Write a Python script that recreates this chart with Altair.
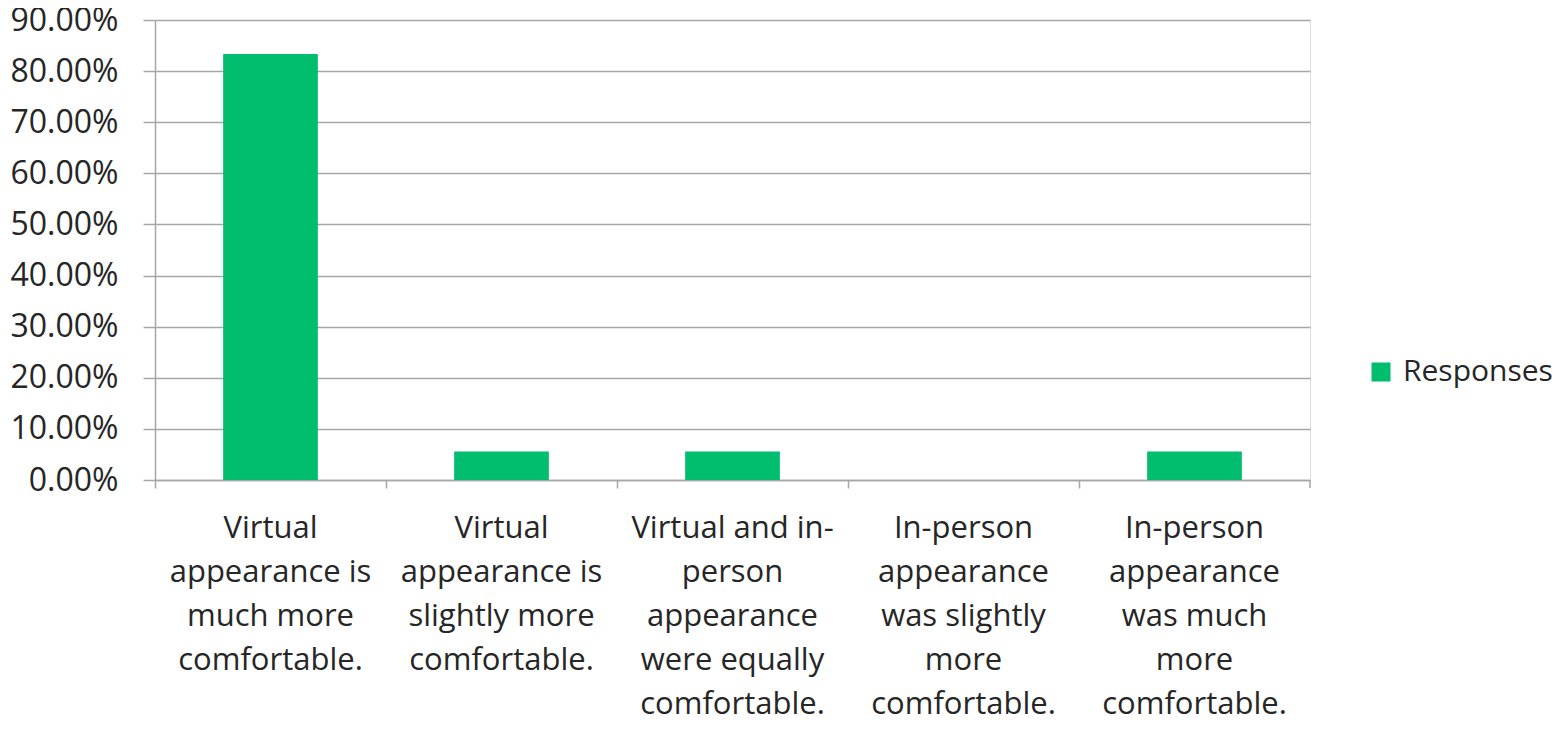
import altair as alt
import pandas as pd

categories = [
    "Virtual|appearance is|much more|comfortable.",
    "Virtual|appearance is|slightly more|comfortable.",
    "Virtual and in-|person|appearance|were equally|comfortable.",
    "In-person|appearance|was slightly|more|comfortable.",
    "In-person|appearance|was much|more|comfortable.",
]
values = [0.8333, 0.0556, 0.0556, 0.0, 0.0556]
series = ["Responses"] * 5

df = pd.DataFrame({"category": categories, "value": values, "series": series})

W, H = 1155, 460
GRAY = "#A6A6A6"
TXT = "#262626"
FONT = "Open Sans"

bars = alt.Chart(df).mark_bar(width=alt.RelativeBandSize(0.41)).encode(
    x=alt.X(
        "category:N",
        sort=categories,
        scale=alt.Scale(paddingInner=0, paddingOuter=0),
        axis=alt.Axis(
            title=None,
            labelAngle=0,
            labelExpr="split(datum.label, '|')",
            labelFont=FONT,
            labelFontSize=31,
            labelColor=TXT,
            labelLineHeight=44,
            labelPadding=25,
            labelLimit=400,
            bandPosition=0,
            tickSize=8,
            tickColor=GRAY,
            tickWidth=1.5,
            domainColor=GRAY,
            domainWidth=1.5,
            grid=False,
        ),
    ),
    y=alt.Y(
        "value:Q",
        scale=alt.Scale(domain=[0, 0.9]),
        axis=alt.Axis(
            title=None,
            format=".2%",
            values=[i / 10 for i in range(10)],
            labelFont=FONT,
            labelFontSize=32,
            labelColor=TXT,
            labelPadding=25,
            tickSize=12,
            tickColor=GRAY,
            tickWidth=1.5,
            domainColor=GRAY,
            domainWidth=1.5,
            gridColor=GRAY,
            gridWidth=1.5,
        ),
    ),
    fill=alt.Fill(
        "series:N",
        scale=alt.Scale(range=["#00BE6E"]),
        legend=alt.Legend(
            title=None,
            orient="none",
            legendX=W + 56,
            legendY=337,
            symbolType="square",
            symbolSize=361,
            symbolStrokeWidth=0,
            labelFont=FONT,
            labelFontSize=30,
            labelColor=TXT,
            labelOffset=7,
            labelLimit=300,
        ),
    ),
)

end_tick = alt.Chart(df.head(1)).mark_rule(color=GRAY, strokeWidth=1.5).encode(
    x=alt.value(W), y=alt.value(H), y2=alt.value(H + 8)
)

chart = (
    alt.layer(bars, end_tick)
    .properties(
        width=W,
        height=H,
        autosize=alt.AutoSizeParams(type="none"),
        padding={"left": 147, "top": 12, "right": 245, "bottom": 242},
    )
    .configure_view(stroke=None)
    .configure(background="white")
)

chart.save("out.html", embed_options={"renderer": "svg", "actions": False})
